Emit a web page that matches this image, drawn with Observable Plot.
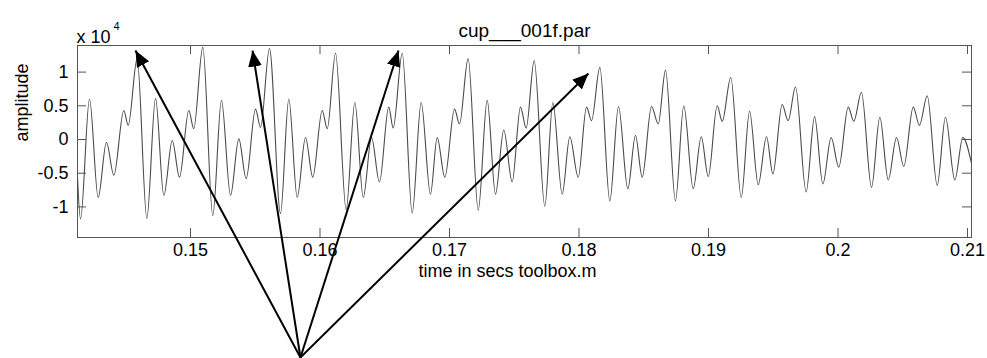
<!DOCTYPE html>
<html><head><meta charset="utf-8">
<script src="https://cdn.jsdelivr.net/npm/d3@7"></script>
<script src="https://cdn.jsdelivr.net/npm/@observablehq/plot@0.6"></script>
<style>body{margin:0;background:#fff} svg{display:block}</style>
</head><body><div id="chart"></div>
<script>
// waveform extrema (time in s, raw amplitude)
const time = [0.14127,0.14151,0.14220,0.14287,0.14351,0.14408,0.14485,0.14519,0.14588,0.14663,
0.14730,0.14794,0.14859,0.14915,0.14987,0.15025,0.15095,0.15172,0.15239,0.15309,
0.15373,0.15430,0.15502,0.15541,0.15610,0.15695,0.15759,0.15824,0.15888,0.15944,
0.16017,0.16056,0.16120,0.16202,0.16269,0.16334,0.16398,0.16459,0.16531,0.16565,
0.16635,0.16712,0.16781,0.16853,0.16905,0.16964,0.17039,0.17077,0.17144,0.17222,
0.17291,0.17355,0.17419,0.17484,0.17548,0.17592,0.17654,0.17736,0.17798,0.17870,
0.17929,0.17994,0.18058,0.18097,0.18161,0.18238,0.18305,0.18377,0.18436,0.18488,
0.18560,0.18612,0.18668,0.18745,0.18809,0.18882,0.18944,0.18998,0.19067,0.19106,
0.19172,0.19253,0.19317,0.19384,0.19448,0.19497,0.19569,0.19615,0.19672,0.19754,
0.19819,0.19883,0.19947,0.20006,0.20079,0.20122,0.20181,0.20259,0.20323,0.20388,
0.20452,0.20508,0.20581,0.20629,0.20689,0.20766,0.20830,0.20902,0.20964,0.21029];
const amplitude = [-5500,-11800,6000,-8600,-400,-5300,4300,2100,12000,-11700,
6100,-8300,-150,-5600,4300,1600,13700,-11300,5800,-8300,
100,-5800,4500,1800,13500,-11000,6000,-8600,300,-5600,
4300,1600,12800,-10400,5500,-8600,300,-6300,4800,1700,
12800,-10900,5500,-8100,300,-5600,4500,2300,12000,-10500,
5800,-8100,1400,-6300,4800,1700,11700,-9900,5500,-8100,
400,-5600,4800,2800,10700,-9100,4900,-7300,600,-5600,
4900,2300,10300,-9100,5000,-7300,400,-5500,5000,2700,
9200,-8600,4200,-6700,400,-5100,5200,2800,7800,-7800,
3400,-6600,300,-4100,4800,2700,7000,-7100,3300,-6000,
300,-4000,4800,2100,6500,-6800,3300,-6000,300,-3400];

const xTicks = [0.15,0.16,0.17,0.18,0.19,0.20,0.21];
const xTickLabels = ["0.15","0.16","0.17","0.18","0.19","0.2","0.21"];
const yTicks = [-10000,-5000,0,5000,10000];
const yTickLabels = ["-1","-0.5","0","0.5","1"];

// annotation arrows (data coordinates)
const arrowStartTime = 0.15849;
const arrowStartAmp = -32340;
const arrowTipTime = [0.14575, 0.15479, 0.16606, 0.18073];
const arrowTipAmp = [13200, 13200, 13200, 9800];

const titleText = "cup___001f.par";
const xLabelText = "time in secs toolbox.m";
const yLabelText = "amplitude";
const exponentBase = "x 10";
const exponentPower = "4";

const wave = time.map((t, i) => ({t, a: amplitude[i]}));
const arrows = arrowTipTime.map((t, i) => ({x1: arrowStartTime, y1: arrowStartAmp, x2: t, y2: arrowTipAmp[i]}));

function filledArrow(color) {
  const m = d3.create("svg:marker")
    .attr("viewBox", "-10 -5 10 10")
    .attr("markerWidth", 8)
    .attr("markerHeight", 8)
    .attr("refX", 0).attr("refY", 0)
    .attr("orient", "auto");
  m.append("path").attr("d", "M-10,-4.3L0,0L-10,4.3Z").attr("fill", color).attr("stroke", "none");
  return m.node();
}

const font = "'Liberation Sans', Arial, Helvetica, sans-serif";
const axisColor = "#555";

const chart = Plot.plot({
  width: 987, height: 358,
  marginLeft: 77, marginRight: 16, marginTop: 45, marginBottom: 121,
  style: {fontFamily: font, fontSize: "18px", background: "#fff", color: "#000"},
  x: {domain: [0.141274, 0.210309], axis: null},
  y: {domain: [-14540, 13947], axis: null},
  marks: [
    Plot.frame({stroke: axisColor, strokeWidth: 1}),
    Plot.ruleX(xTicks, {x: d => d, insetTop: 183, stroke: axisColor}),
    Plot.ruleX(xTicks, {x: d => d, insetBottom: 183, stroke: axisColor}),
    Plot.ruleY(yTicks, {y: d => d, insetRight: 885, stroke: axisColor}),
    Plot.ruleY(yTicks, {y: d => d, insetLeft: 885, stroke: axisColor}),
    Plot.line(wave, {x: "t", y: "a", stroke: "#4a4a4a", strokeWidth: 1.1, curve: "monotone-x", clip: true}),
    Plot.text(xTicks, {x: d => d, frameAnchor: "bottom", dy: 18, text: (d, i) => xTickLabels[i], fontSize: 18, fill: "#000"}),
    Plot.text(yTicks, {y: d => d, frameAnchor: "left", dx: -9, textAnchor: "end", text: (d, i) => yTickLabels[i], fontSize: 18, fill: "#000"}),
    Plot.text([titleText], {frameAnchor: "top", dy: -22, text: d => d, fontSize: 19, fill: "#000"}),
    Plot.text([xLabelText], {frameAnchor: "bottom", dx: -17, dy: 39, text: d => d, fontSize: 18, fill: "#000"}),
    Plot.text([yLabelText], {frameAnchor: "left", dx: -55, rotate: -90, text: d => d, fontSize: 18, fill: "#000"}),
    Plot.text([exponentBase], {frameAnchor: "top-left", dx: -1, dy: -15, textAnchor: "start", text: d => d, fontSize: 18, fill: "#000"}),
    Plot.text([exponentPower], {frameAnchor: "top-left", dx: 36, dy: -23, textAnchor: "start", text: d => d, fontSize: 11, fill: "#000"}),
    Plot.link(arrows, {x1: "x1", y1: "y1", x2: "x2", y2: "y2", stroke: "#000", strokeWidth: 2, markerEnd: filledArrow})
  ]
});
document.getElementById("chart").appendChild(chart);
</script>
</body></html>
